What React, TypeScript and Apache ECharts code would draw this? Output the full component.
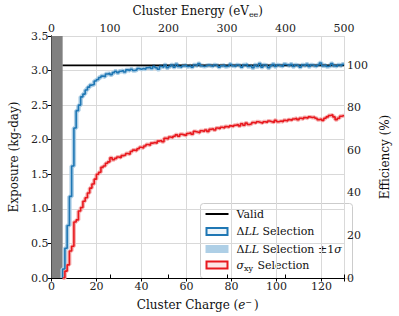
import React, { useEffect, useRef } from 'react';
import * as echarts from 'echarts';

// Histogram bins in cluster charge (e-), first bin edge and width
const BIN_START = 5;
const BIN_WIDTH = 1;
const CHARGE_MAX = 130;
const ENERGY_MAX = 500;
const chargeTicks = [0, 20, 40, 60, 80, 100, 120];
const energyTicks = [0, 100, 200, 300, 400, 500];
const exposureTicks = [0, 0.5, 1, 1.5, 2, 2.5, 3, 3.5];
const effTicks = [0, 20, 40, 60, 80, 100];
const VALID = 3.076; // kg-day, = 100 % efficiency
const MASKED = [0, 5]; // grey region in e-

// ΔLL selection exposure per bin (kg-day), bins 5..129
const dllValues = [
  0.13, 0.43, 0.76, 1.18, 1.62, 2.17, 2.42, 2.5, 2.62, 2.66,
  2.72, 2.76, 2.79, 2.8, 2.85, 2.87, 2.9, 2.92, 2.91, 2.95,
  2.96, 2.94, 2.97, 2.99, 2.97, 2.99, 3.0, 2.98, 3.01, 3.0,
  3.02, 3.0, 3.01, 3.03, 3.02, 3.03, 3.02, 3.04, 3.05, 3.03,
  3.06, 3.04, 3.02, 3.06, 3.05, 3.08, 3.04, 3.06, 3.08, 3.05,
  3.09, 3.06, 3.05, 3.07, 3.08, 3.06, 3.07, 3.05, 3.08, 3.07,
  3.1, 3.07, 3.06, 3.07, 3.08, 3.07, 3.06, 3.08, 3.07, 3.05,
  3.07, 3.08, 3.06, 3.07, 3.09, 3.07, 3.06, 3.08, 3.07, 3.05,
  3.08, 3.09, 3.06, 3.07, 3.04, 3.08, 3.06, 3.1, 3.05, 3.08,
  3.07, 3.04, 3.07, 3.09, 3.06, 3.08, 3.07, 3.06, 3.09, 3.08,
  3.07, 3.09, 3.06, 3.08, 3.07, 3.05, 3.08, 3.07, 3.09, 3.06,
  3.08, 3.07, 3.06, 3.08, 3.11, 3.07, 3.08, 3.06, 3.07, 3.1,
  3.07, 3.06, 3.08, 3.07, 3.09,
];

// σxy selection exposure per bin (kg-day), bins 5..129
const sxyValues = [
  0.0, 0.1, 0.19, 0.39, 0.46, 0.81, 0.84, 0.97, 1.02, 1.11,
  1.16, 1.23, 1.3, 1.36, 1.43, 1.5, 1.53, 1.6, 1.62, 1.66,
  1.68, 1.74, 1.71, 1.73, 1.75, 1.74, 1.77, 1.78, 1.8, 1.79,
  1.83, 1.85, 1.84, 1.87, 1.89, 1.88, 1.91, 1.93, 1.92, 1.95,
  1.96, 1.95, 1.98, 1.99, 1.97, 2.02, 2.01, 2.04, 2.03, 2.05,
  2.07, 2.05, 2.08, 2.07, 2.06, 2.09, 2.1, 2.08, 2.12, 2.11,
  2.1, 2.13, 2.12, 2.14, 2.12, 2.15, 2.16, 2.14, 2.17, 2.16,
  2.18, 2.17, 2.19, 2.18, 2.2, 2.19, 2.21, 2.22, 2.2, 2.23,
  2.21, 2.24, 2.22, 2.23, 2.25, 2.24, 2.26, 2.25, 2.24, 2.26,
  2.25, 2.27, 2.26, 2.25, 2.28, 2.26, 2.27, 2.26, 2.28, 2.27,
  2.29, 2.28, 2.3, 2.31, 2.29, 2.31, 2.3, 2.32, 2.31, 2.33,
  2.32, 2.33, 2.31, 2.29, 2.3, 2.28, 2.31, 2.33, 2.35, 2.36,
  2.33, 2.29, 2.31, 2.34, 2.35,
];

const FONT = 'DejaVu Serif';
const BLUE = '#1f77b4';
const BLUE_BAND = '#aecfe6';
const RED = '#e8191f';
const RED_BAND = '#f6b3b3';

function stepData(vals: number[]): number[][] {
  const pts: number[][] = [[BIN_START, 0]];
  vals.forEach((v, i) => pts.push([BIN_START + i * BIN_WIDTH, v]));
  pts.push([BIN_START + vals.length * BIN_WIDTH, vals[vals.length - 1]]);
  return pts;
}

export default function App() {
  const ref = useRef<HTMLDivElement>(null);
  useEffect(() => {
    if (!ref.current) return;
    const chart = echarts.init(ref.current, undefined, { renderer: 'svg' });
    const tickLabel = { fontFamily: FONT, fontSize: 11, color: '#222' };
    const nameStyle = { fontFamily: FONT, fontSize: 12, color: '#111' };
    const axisLine = { show: true, lineStyle: { color: '#000', width: 1 } };
    const axisTick = { show: true, length: 3.5, lineStyle: { color: '#000', width: 1 } };
    const lineBase = {
      type: 'line',
      step: 'end',
      symbol: 'none',
      silent: true,
      xAxisIndex: 0,
      yAxisIndex: 0,
    };
    const legendRow = (y: number) => y;
    chart.setOption({
      animation: false,
      grid: { left: 37, right: 41, top: 30, bottom: 32, containLabel: false },
      xAxis: [
        {
          type: 'value',
          min: 0,
          max: CHARGE_MAX,
          interval: 20,
          position: 'bottom',
          name: 'Cluster Charge ({i|e}{s|−})',
          nameLocation: 'middle',
          nameGap: 20,
          nameTextStyle: {
            ...nameStyle,
            rich: {
              i: { ...nameStyle, fontStyle: 'italic' },
              s: { ...nameStyle, fontSize: 8, verticalAlign: 'top', padding: [0, 2, 6, 0] },
            },
          },
          axisLine,
          axisTick,
          axisLabel: { ...tickLabel, margin: 3, customValues: chargeTicks },
          splitLine: { show: true, lineStyle: { color: '#d9d9d9', width: 1 } },
        },
        {
          type: 'value',
          min: 0,
          max: ENERGY_MAX,
          interval: 100,
          position: 'top',
          name: 'Cluster Energy (eV{s|ee})',
          nameLocation: 'middle',
          nameGap: 18,
          nameTextStyle: {
            ...nameStyle,
            rich: {
              s: { ...nameStyle, fontSize: 8, padding: [6, 0, 0, 0] },
            },
          },
          axisLine,
          axisTick,
          axisLabel: { ...tickLabel, margin: 2, customValues: energyTicks },
          splitLine: { show: false },
        },
      ],
      yAxis: [
        {
          type: 'value',
          min: 0,
          max: 3.5,
          interval: 0.5,
          position: 'left',
          name: 'Exposure (kg-day)',
          nameLocation: 'middle',
          nameGap: 24,
          nameTextStyle: nameStyle,
          axisLine,
          axisTick,
          axisLabel: {
            ...tickLabel,
            margin: 3,
            customValues: exposureTicks,
            formatter: (v: number) => v.toFixed(1),
          },
          splitLine: { show: true, lineStyle: { color: '#d9d9d9', width: 1 } },
        },
        {
          type: 'value',
          min: 0,
          max: (3.5 / VALID) * 100,
          position: 'right',
          name: 'Efficiency (%)',
          nameLocation: 'middle',
          nameGap: 25,
          nameRotate: 90,
          nameTextStyle: nameStyle,
          axisLine,
          axisTick: { ...axisTick, customValues: effTicks },
          axisLabel: { ...tickLabel, margin: 3, customValues: effTicks },
          splitLine: { show: false },
        },
      ],
      series: [
        {
          ...lineBase,
          name: 'ΔLL band',
          data: stepData(dllValues),
          lineStyle: { color: BLUE_BAND, width: 4.5 },
          z: 2,
        },
        {
          ...lineBase,
          name: 'σxy band',
          data: stepData(sxyValues),
          lineStyle: { color: RED_BAND, width: 4 },
          z: 2,
        },
        {
          type: 'line',
          name: 'Valid',
          symbol: 'none',
          silent: true,
          data: [
            [MASKED[1], VALID],
            [CHARGE_MAX, VALID],
          ],
          lineStyle: { color: '#000', width: 1.8 },
          z: 3,
        },
        {
          ...lineBase,
          name: 'ΔLL Selection',
          data: stepData(dllValues),
          lineStyle: { color: BLUE, width: 1.6 },
          z: 4,
        },
        {
          ...lineBase,
          name: 'σxy Selection',
          data: stepData(sxyValues),
          lineStyle: { color: RED, width: 1.6 },
          z: 5,
          markArea: {
            silent: true,
            itemStyle: { color: '#808080', opacity: 1 },
            data: [[{ xAxis: MASKED[0] }, { xAxis: MASKED[1] }]],
          },
        },
      ],
      graphic: [
        {
          type: 'group',
          left: 200,
          top: 203,
          z: 100,
          children: [
            {
              type: 'rect',
              shape: { x: 0, y: 0, width: 152, height: 75, r: 3 },
              style: { fill: 'rgba(255,255,255,0.85)', stroke: '#cccccc', lineWidth: 1 },
            },
            {
              type: 'line',
              shape: { x1: 5, y1: legendRow(10.5), x2: 28, y2: legendRow(10.5) },
              style: { stroke: '#000', lineWidth: 2 },
            },
            {
              type: 'rect',
              shape: { x: 6, y: 24.5, width: 21, height: 7 },
              style: { fill: '#eef5fa', stroke: BLUE, lineWidth: 2 },
            },
            {
              type: 'rect',
              shape: { x: 5, y: 41.5, width: 23, height: 8 },
              style: { fill: BLUE_BAND },
            },
            {
              type: 'rect',
              shape: { x: 6, y: 58, width: 21, height: 7 },
              style: { fill: '#fde6e6', stroke: RED, lineWidth: 2 },
            },
            {
              type: 'text',
              x: 36,
              y: 10.5,
              style: { text: 'Valid', fontFamily: FONT, fontSize: 11, fill: '#111', verticalAlign: 'middle' },
            },
            {
              type: 'text',
              x: 36,
              y: 28,
              style: {
                text: 'Δ{i|LL} Selection',
                fontFamily: FONT,
                fontSize: 11,
                fill: '#111',
                verticalAlign: 'middle',
                rich: { i: { fontFamily: FONT, fontSize: 11, fontStyle: 'italic', fill: '#111' } },
              },
            },
            {
              type: 'text',
              x: 36,
              y: 45.5,
              style: {
                text: 'Δ{i|LL} Selection ±1{i|σ}',
                fontFamily: FONT,
                fontSize: 11,
                fill: '#111',
                verticalAlign: 'middle',
                rich: { i: { fontFamily: FONT, fontSize: 11, fontStyle: 'italic', fill: '#111' } },
              },
            },
            {
              type: 'text',
              x: 36,
              y: 62,
              style: {
                text: '{i|σ}{s|xy} Selection',
                fontFamily: FONT,
                fontSize: 11,
                fill: '#111',
                verticalAlign: 'middle',
                rich: {
                  i: { fontFamily: FONT, fontSize: 11, fontStyle: 'italic', fill: '#111' },
                  s: { fontFamily: FONT, fontSize: 8, fill: '#111', padding: [5, 1, 0, 0] },
                },
              },
            },
          ],
        },
      ],
    });
    return () => chart.dispose();
  }, []);
  return (
    <div
      ref={ref}
      style={{ position: 'absolute', left: 0, top: 0, width: 399, height: 316, background: '#fff' }}
    />
  );
}
